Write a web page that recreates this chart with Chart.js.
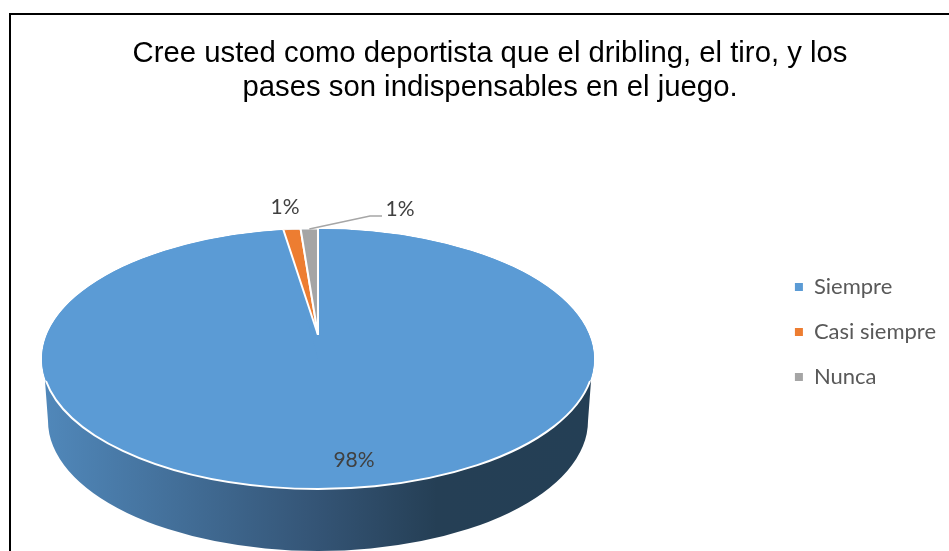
<!DOCTYPE html>
<html>
<head>
<meta charset="utf-8">
<style>
    html, body { margin: 0; background: #fff; overflow: hidden; }
    #frame { position: absolute; left: 9px; top: 13px; width: 958px; height: 640px; border: 2px solid #000; }
    canvas { display: block; }
</style>
</head>
<body>
<div id="frame"><canvas id="pie" width="958" height="634"></canvas></div>
<script src="https://cdn.jsdelivr.net/npm/chart.js@4"></script>
<script>
var titleLines = ['Cree usted como deportista que el dribling, el tiro, y los', 'pases son indispensables en el juego.'];
var categories = ['Siempre', 'Casi siempre', 'Nunca'];
var percents = [98, 1, 1];
var colors = ['#5b9bd5', '#ed7d31', '#a5a5a5'];

// top face of the disc, and the smaller ellipse its wall ends on
var face = { x: 307, y: 344, rx: 276, ry: 130 };
var base = { x: 307, y: 406, rx: 270, ry: 130 };
// slices converge above the face centre because of the perspective
var apexY = 320;

var labelSpots = [{ x: 343, y: 445 }, { x: 274, y: 192 }, { x: 389, y: 194 }];
var labelFont = '21px Lato';

function drawWall(ctx) {
    var wall = ctx.createLinearGradient(base.x - base.rx, 0, base.x + base.rx, 0);
    wall.addColorStop(0, '#5087b9');
    wall.addColorStop(0.5, '#345475');
    wall.addColorStop(0.72, '#253f55');
    wall.addColorStop(1, '#243f55');
    ctx.beginPath();
    ctx.moveTo(face.x + 273, face.y + 22);
    ctx.lineTo(base.x + base.rx, base.y);
    ctx.ellipse(base.x, base.y, base.rx, base.ry, 0, 0, Math.PI);
    ctx.lineTo(face.x - 273, face.y + 22);
    ctx.closePath();
    ctx.fillStyle = wall;
    ctx.fill();
}

function drawFace(ctx) {
    ctx.beginPath();
    ctx.ellipse(face.x, face.y, face.rx, face.ry, 0, 0, Math.PI * 2);
    ctx.fillStyle = colors[0];
    ctx.fill();
}

// white rim along the front edge
function drawRim(ctx) {
    ctx.beginPath();
    ctx.ellipse(face.x, face.y, face.rx, face.ry, 0, 0.17, Math.PI - 0.17);
    ctx.strokeStyle = '#fff';
    ctx.lineWidth = 2;
    ctx.stroke();
}

// squash one arc element onto the tilted face
function drawArc(ctx, arc, index, area) {
    var cy = index === 0 ? face.y : apexY;
    var ry = index === 0 ? face.ry : apexY - (face.y - face.ry);
    ctx.save();
    ctx.translate(face.x, cy);
    ctx.scale(face.rx / arc.outerRadius, ry / arc.outerRadius);
    ctx.translate(-arc.x, -arc.y);
    arc.draw(ctx, area);
    ctx.restore();
}

var tiltedPie = {
    id: 'tiltedPie',
    beforeDatasetsDraw: function (chart) {
        var ctx = chart.ctx;
        drawWall(ctx);
        drawFace(ctx);
        chart.getDatasetMeta(0).data.forEach(function (arc, i) {
            drawArc(ctx, arc, i, chart.chartArea);
        });
        drawRim(ctx);
        return false;
    },
    afterDraw: function (chart) {
        var ctx = chart.ctx;
        var arc = chart.getDatasetMeta(0).data[2];
        var mid = (arc.startAngle + arc.endAngle) / 2;

        // leader line from the last slice to its label
        ctx.beginPath();
        ctx.moveTo(face.x + Math.cos(mid) * face.rx, apexY + Math.sin(mid) * (apexY - (face.y - face.ry)));
        ctx.lineTo(359, 201);
        ctx.lineTo(371, 201);
        ctx.strokeStyle = '#a6a6a6';
        ctx.lineWidth = 1.5;
        ctx.stroke();

        ctx.font = labelFont;
        ctx.fillStyle = '#404040';
        ctx.textAlign = 'center';
        ctx.textBaseline = 'middle';
        percents.forEach(function (p, i) {
            ctx.fillText(p + '%', labelSpots[i].x, labelSpots[i].y);
        });
    }
};

new Chart(document.getElementById('pie'), {
    type: 'pie',
    data: {
        labels: categories,
        datasets: [{
            data: percents,
            backgroundColor: colors,
            borderColor: '#fff',
            borderWidth: [0, 2, 2]
        }]
    },
    options: {
        responsive: false,
        animation: false,
        layout: { padding: { left: 23, right: 23 } },
        plugins: {
            title: {
                display: true,
                text: titleLines,
                color: '#000',
                font: { family: 'Liberation Sans', size: 29.3, weight: 'normal', lineHeight: 1.16 },
                padding: { top: 22, bottom: 0 }
            },
            legend: {
                position: 'right',
                labels: {
                    boxWidth: 8,
                    boxHeight: 8,
                    padding: 23,
                    color: '#595959',
                    font: { family: 'Lato', size: 22 },
                    generateLabels: function (chart) {
                        return Chart.overrides.pie.plugins.legend.labels.generateLabels(chart).map(function (item) {
                            item.lineWidth = 0;
                            return item;
                        });
                    }
                }
            },
            tooltip: { enabled: false }
        }
    },
    plugins: [tiltedPie]
});
</script>
</body>
</html>
